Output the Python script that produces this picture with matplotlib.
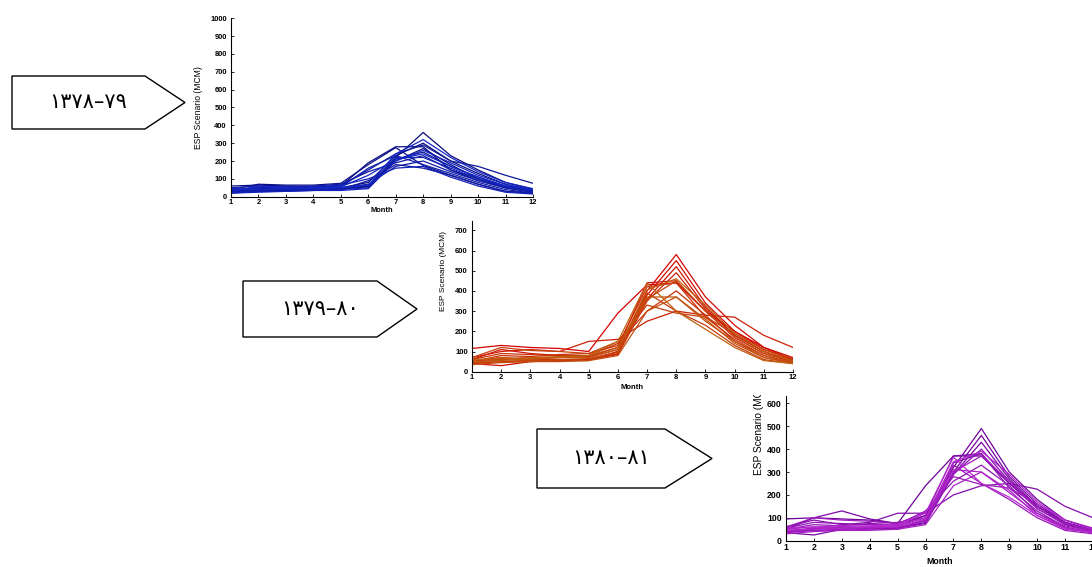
import numpy as np
import matplotlib
matplotlib.use("Agg")
import matplotlib.pyplot as plt
from matplotlib.patches import Polygon
from matplotlib.transforms import Bbox, TransformedBbox

# ---------- 数据 ----------
months = list(range(1, 13))

# 1378-79 (blue)
esp_1378 = [
    [25, 30, 35, 40, 45, 60, 220, 360, 230, 150, 80, 40],
    [30, 40, 40, 45, 50, 80, 230, 300, 200, 130, 70, 35],
    [60, 65, 60, 55, 60, 190, 280, 280, 150, 90, 50, 25],
    [40, 70, 65, 65, 75, 180, 275, 175, 120, 70, 30, 20],
    [35, 40, 45, 45, 45, 55, 200, 270, 180, 100, 60, 30],
    [20, 30, 35, 40, 45, 60, 210, 250, 170, 110, 60, 30],
    [30, 55, 50, 50, 60, 150, 240, 290, 200, 170, 120, 75],
    [25, 35, 40, 40, 40, 90, 180, 160, 120, 70, 30, 20],
    [40, 50, 55, 60, 70, 140, 190, 230, 150, 100, 50, 30],
    [30, 45, 40, 45, 50, 70, 170, 200, 140, 90, 50, 25],
    [50, 60, 55, 50, 55, 160, 230, 180, 130, 80, 40, 20],
    [25, 30, 30, 35, 40, 50, 220, 220, 160, 100, 55, 30],
    [35, 45, 50, 55, 65, 100, 160, 170, 110, 60, 25, 15],
    [20, 25, 30, 35, 35, 45, 200, 260, 190, 120, 70, 35],
    [45, 40, 45, 50, 55, 120, 210, 240, 170, 110, 60, 40],
    [30, 60, 50, 45, 50, 65, 240, 320, 220, 140, 80, 45],
]

# 1379-80 (red / orange)
esp_1379 = [
    [115, 130, 120, 115, 100, 290, 430, 440, 300, 200, 120, 60],
    [50, 70, 60, 60, 60, 100, 400, 580, 370, 230, 120, 70],
    [40, 30, 50, 55, 60, 90, 380, 550, 340, 200, 110, 60],
    [60, 110, 90, 80, 70, 110, 360, 520, 320, 180, 100, 50],
    [55, 60, 70, 70, 75, 120, 440, 450, 300, 170, 90, 50],
    [70, 100, 110, 100, 150, 160, 250, 300, 280, 270, 180, 120],
    [45, 50, 55, 60, 60, 85, 350, 490, 310, 180, 100, 55],
    [50, 80, 75, 85, 90, 130, 420, 440, 270, 160, 80, 45],
    [60, 90, 85, 80, 80, 140, 300, 400, 280, 150, 70, 45],
    [40, 50, 50, 55, 55, 100, 390, 300, 230, 130, 60, 40],
    [70, 120, 105, 100, 90, 150, 330, 290, 270, 190, 110, 65],
    [45, 60, 55, 60, 65, 95, 360, 450, 300, 170, 90, 50],
    [35, 45, 50, 50, 55, 80, 300, 370, 250, 150, 80, 45],
    [55, 70, 60, 70, 80, 120, 370, 370, 260, 140, 70, 40],
    [50, 55, 65, 70, 70, 110, 405, 460, 330, 190, 100, 55],
    [60, 65, 70, 75, 80, 150, 440, 300, 210, 120, 55, 40],
]

# 1380-81 (purple)
esp_1380 = [
    [95, 100, 95, 90, 75, 240, 370, 370, 250, 150, 80, 45],
    [40, 55, 60, 55, 55, 90, 320, 490, 300, 180, 90, 50],
    [35, 25, 50, 55, 55, 80, 300, 460, 280, 160, 80, 45],
    [50, 100, 130, 95, 75, 110, 290, 430, 270, 150, 75, 40],
    [45, 50, 60, 60, 65, 110, 370, 380, 250, 140, 70, 40],
    [60, 90, 70, 80, 120, 120, 200, 240, 250, 225, 150, 100],
    [40, 45, 50, 55, 55, 75, 290, 400, 260, 150, 80, 45],
    [50, 70, 65, 75, 80, 100, 340, 380, 230, 130, 60, 35],
    [55, 80, 75, 70, 70, 130, 260, 330, 240, 120, 55, 35],
    [35, 45, 45, 50, 50, 90, 330, 250, 180, 100, 45, 30],
    [60, 100, 90, 85, 75, 125, 280, 245, 230, 160, 90, 55],
    [40, 55, 50, 55, 60, 85, 300, 370, 260, 140, 75, 45],
    [30, 40, 45, 45, 50, 70, 240, 300, 210, 120, 65, 40],
    [50, 60, 55, 60, 65, 100, 310, 300, 220, 110, 55, 35],
    [45, 50, 55, 60, 60, 95, 345, 390, 290, 170, 90, 50],
    [55, 60, 65, 65, 70, 120, 365, 250, 190, 110, 50, 35],
]

labels = ["۱۳۷۸–۷۹", "۱۳۷۹–۸۰", "۱۳۸۰–۸۱"]

W, H = 1092, 567
fig = plt.figure(figsize=(W / 100, H / 100), dpi=100)
fig.patch.set_facecolor("white")


def px_axes(left, right, top, bottom):
    return [left / W, 1 - bottom / H, (right - left) / W, (bottom - top) / H]


def draw_panel(rect, data, c0, c1, ymax, ytop_vis, tick_fs, lab_fs, xpad, ypad):
    # 每幅图都是 0-1000 的坐标，只是原图被裁掉了顶部
    ax = fig.add_axes(rect)
    n = len(data)
    c0 = np.array(matplotlib.colors.to_rgb(c0))
    c1 = np.array(matplotlib.colors.to_rgb(c1))
    for i, s in enumerate(data):
        c = c0 + (c1 - c0) * (i / max(n - 1, 1))
        ax.plot(months, s, color=c, lw=0.9)
    ax.set_xlim(1, 12)
    ax.set_ylim(0, 1000)
    ax.set_xticks(months)
    ax.set_yticks(range(0, ymax + 1, 100))
    for sp in ("top", "right"):
        ax.spines[sp].set_visible(False)
    for sp in ("left", "bottom"):
        ax.spines[sp].set_linewidth(0.8)
    ax.spines["left"].set_bounds(0, ytop_vis)
    ax.tick_params(direction="in", length=2, width=0.6, pad=3,
                   labelsize=tick_fs)
    ax.tick_params(axis="x", pad=2)
    for lab in ax.get_xticklabels() + ax.get_yticklabels():
        lab.set_fontweight("bold")
        lab.set_fontfamily("Liberation Sans")
    ax.set_xlabel("Month", fontsize=tick_fs, fontweight="bold",
                  family="Liberation Sans", labelpad=xpad)
    ax.set_ylabel("ESP Scenario (MCM)", fontsize=lab_fs,
                  family="Liberation Sans", labelpad=ypad)
    ax.patch.set_alpha(0)
    return ax


ax1 = draw_panel(px_axes(231, 533, 18.3, 196.7), esp_1378,
                 "#0a0a78", "#1428c8", 1000, 1000, 5.4, 6.2, 0.5, 5)
ax2 = draw_panel(px_axes(472, 793, 169.7, 371.7), esp_1379,
                 "#d40000", "#c06010", 700, 745, 5.5, 6.0, 1.5, 6)
ax3 = draw_panel(px_axes(786, 1093, 311.7, 540.7), esp_1380,
                 "#6a0098", "#b828d0", 600, 630, 6.3, 7.3, 3.5, 2)

# 第三幅图的 y 轴标签在图片顶部被裁掉
clip = TransformedBbox(Bbox([[0, 0], [1, (H - 395) / H]]), fig.transFigure)
ax3.yaxis.label.set_clip_box(clip)
ax3.yaxis.label.set_clip_on(True)


# ---------- 箭头框 ----------
def arrow_box(left, right_rect, tip, top, bottom, text):
    mid = (top + bottom) / 2
    pts = [(left, top), (right_rect, top), (tip, mid),
           (right_rect, bottom), (left, bottom)]
    pts = [(x / W, 1 - y / H) for x, y in pts]
    fig.patches.append(Polygon(pts, closed=True, facecolor="white",
                               edgecolor="black", lw=1.0,
                               transform=fig.transFigure))
    fig.text(((left + right_rect) / 2 + 10) / W, 1 - mid / H, text,
             ha="center", va="center", fontsize=15,
             family=["DejaVu Sans", "Noto Sans"])


arrow_box(12, 145, 185, 76, 129, labels[0])
arrow_box(243, 377, 417, 281, 337, labels[1])
arrow_box(537, 665, 712, 429, 488, labels[2])

fig.savefig("out.png", dpi=100)
